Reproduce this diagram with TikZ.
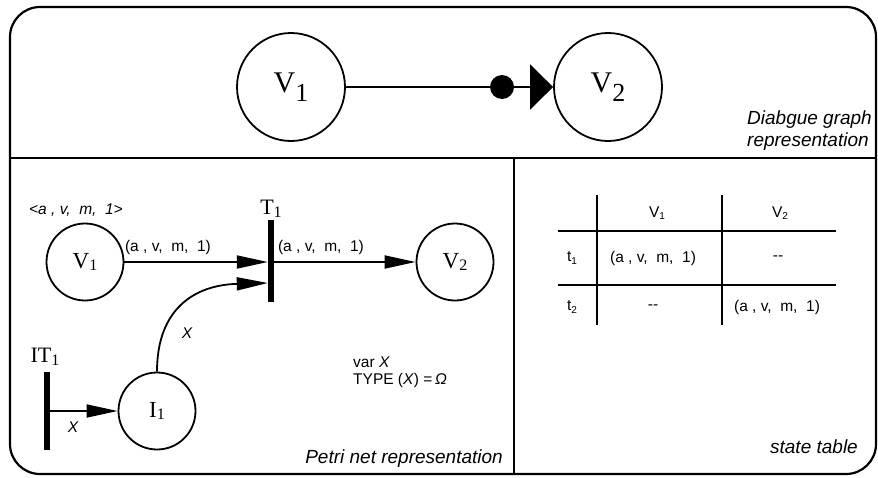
\documentclass[tikz,border=0pt]{standalone}
\usepackage{fontspec}
\setmainfont{Liberation Sans}
\newfontfamily\serifpl{Liberation Serif}
\usetikzlibrary{arrows.meta,calc}
\newcommand{\biglab}[2]{{\serifpl\fontsize{30}{30}\selectfont #1\raisebox{-9pt}{\fontsize{26}{26}\selectfont #2}}}
\newcommand{\plab}[2]{{\serifpl\fontsize{23}{23}\selectfont #1\raisebox{-1.5pt}{\fontsize{16}{16}\selectfont #2}}}
\newcommand{\tlab}[2]{{\serifpl\fontsize{22}{22}\selectfont #1\raisebox{-3pt}{\fontsize{16}{16}\selectfont #2}}}
\newcommand{\ssub}[1]{\raisebox{-2.5pt}{\fontsize{10}{10}\selectfont #1}}
\begin{document}
\begin{tikzpicture}[x=1pt,y=-1pt,
  frame/.style={line width=2.2pt},
  bigplace/.style={circle,draw,line width=1.8pt,minimum size=108pt,inner sep=0pt},
  place/.style={circle,draw,line width=1.8pt,minimum size=77pt,inner sep=0pt},
  trans/.style={rectangle,fill=black,minimum width=6pt,inner sep=0pt},
  parc/.style={line width=1.8pt,-{Triangle[length=31pt,width=13pt]}},
  tline/.style={line width=2.2pt},
  txt/.style={font=\fontsize{15.5}{17}\selectfont,inner sep=0pt},
  itxt/.style={font=\fontsize{15.5}{17}\selectfont\itshape,inner sep=0pt},
  ttl/.style={font=\fontsize{19}{21}\selectfont\itshape,inner sep=0pt},
  lbl/.style={inner sep=0pt}
]
\useasboundingbox (0,0) rectangle (878,477);

% frame
\draw[frame,rounded corners=30pt] (10,7) rectangle (876,474);
\draw[frame] (10,158) -- (876,158);
\draw[frame] (514,158) -- (514,474);

% top: dialogue graph
\node[bigplace] (tV1) at (291,87) {\biglab{V}{1}};
\node[bigplace] (tV2) at (608,87) {\biglab{V}{2}};
\node[circle,fill=black,minimum size=24pt,inner sep=0pt] (dot) at (502,87) {};
\draw[line width=1.8pt,-{Triangle[length=23pt,width=45pt]}] (tV1) -- (tV2);
\node[ttl,anchor=base west] (dg1) at (747,124) {Diabgue graph};
\node[ttl,anchor=base west] (dg2) at (747,146) {representation};

% Petri net
\node[place] (pV1) at (85,262) {\plab{V}{1}};
\node[place] (pV2) at (455,262) {\plab{V}{2}};
\node[place] (pI1) at (157,411) {\plab{I}{1}};
\node[trans,minimum height=82pt] (T1) at (271,261) {};
\node[trans,minimum height=78pt] (IT1) at (47,411) {};
\node[lbl] (T1lab) at (271,209) {\tlab{T}{1}};
\node[lbl] (IT1lab) at (45,357) {\tlab{IT}{1}};
\coordinate (T1in) at ([yshift=-22pt]T1.west);

\draw[parc] (pV1) -- (pV1 -| T1.west);
\draw[parc] (T1.east |- pV2) -- (pV2);
\draw[parc] (pI1.north) .. controls ([yshift=63pt]pI1.north) and ([xshift=-73pt,yshift=-2pt]T1in) .. (T1in);
\draw[parc] (IT1.east |- pI1) -- (pI1);

\node[itxt] (tok) at (76,210) {<a , v,~ m,~ 1>};
\node[txt] (a1) at (168,247) {(a , v,~ m,~ 1)};
\node[txt] (a2) at (321,247) {(a , v,~ m,~ 1)};
\node[itxt] (x1) at (187,333) {X};
\node[itxt] (x2) at (73,427) {X};
\node[txt,anchor=west] (var) at (353,362) {var \textit{X}};
\node[txt,anchor=west] (type) at (353,380) {TYPE (\textit{X}) =\,\textit{Ω}};
\node[ttl,anchor=base east] (pn) at (503,463) {Petri net representation};

% state table
\draw[tline] (597,195) -- (597,325);
\draw[tline] (722,195) -- (722,325);
\draw[tline] (558,231) -- (836,231);
\draw[tline] (558,285) -- (836,285);
\node[txt] (h1) at (657,213) {V\ssub{1}};
\node[txt] (h2) at (780,213) {V\ssub{2}};
\node[txt] (r1) at (572,258) {t\ssub{1}};
\node[txt] (r2) at (572,307) {t\ssub{2}};
\node[txt] (c11) at (653,258) {(a , v,~ m,~ 1)};
\node[txt] (c12) at (778,258) {-{}-};
\node[txt] (c21) at (653,307) {-{}-};
\node[txt] (c22) at (777,307) {(a , v,~ m,~ 1)};
\node[ttl,anchor=base east] (st) at (858,453) {state table};
\end{tikzpicture}
\end{document}
